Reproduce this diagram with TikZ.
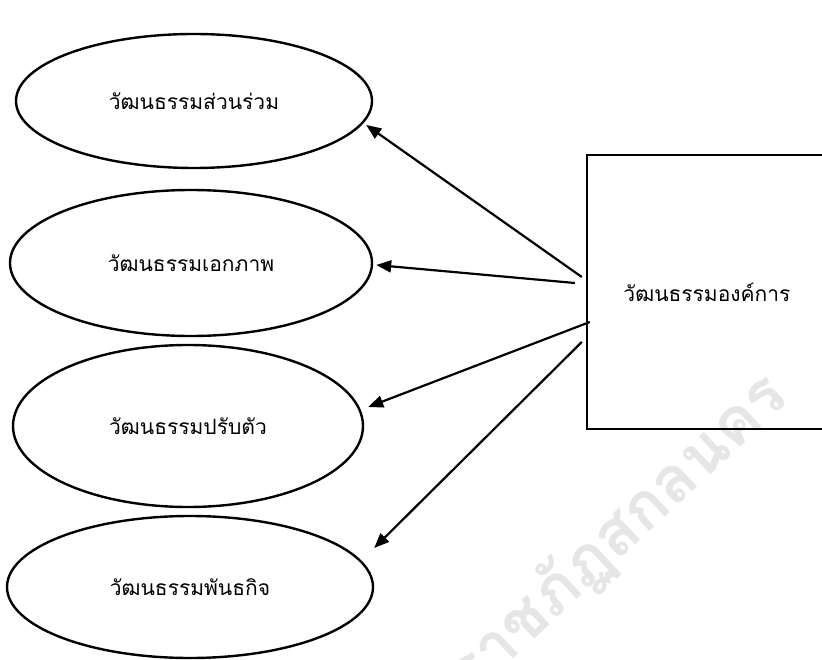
\documentclass[tikz,border=0pt]{standalone}
\usepackage{fontspec}
\newfontfamily\thaifont[Script=Thai]{Loma}
\usetikzlibrary{shapes.geometric,arrows.meta}
\definecolor{wmgray}{HTML}{E6E6E6}
\begin{document}
\begin{tikzpicture}[x=1pt,y=-1pt,
  every node/.style={font=\thaifont\fontsize{21}{24}\selectfont},
  oval/.style={ellipse,draw,line width=2.4pt,inner sep=0pt},
  bigbox/.style={rectangle,draw,line width=2.4pt,inner sep=0pt},
  link/.style={line width=2.2pt,-{Triangle[length=15pt,width=12pt]}}]
\useasboundingbox (0,0) rectangle (822,660);
\begin{scope}
\clip (0,0) rectangle (822,660);
% faint watermark
\node[text=wmgray,rotate=43,anchor=south east,inner sep=0pt,
      font=\thaifont\bfseries\fontsize{64}{72}\selectfont] (wm) at (800,410) {ราชภัฏสกลนคร};
% main box, running off the right edge
\node[bigbox,minimum width=240pt,minimum height=274pt] (org) at (707,292) {วัฒนธรรมองค์การ};
\end{scope}
% four culture types
\node[oval,minimum width=356pt,minimum height=134pt] (e1) at (194,101) {วัฒนธรรมส่วนร่วม};
\node[oval,minimum width=362pt,minimum height=146pt] (e2) at (191,263) {วัฒนธรรมเอกภาพ};
\node[oval,minimum width=350pt,minimum height=162pt] (e3) at (188,426) {วัฒนธรรมปรับตัว};
\node[oval,minimum width=366pt,minimum height=142pt] (e4) at (190,587) {วัฒนธรรมพันธกิจ};
% arrows from the box to each type
\draw[link] ([shift={(-4,-15)}]org.west) -- ([shift={(-7,24)}]e1.east);
\draw[link] ([shift={(-11,-9)}]org.west) -- ([shift={(3,2)}]e2.east);
\draw[link] ([shift={(4,30)}]org.west) -- ([shift={(4,-19)}]e3.east);
\draw[link] ([shift={(-4,50)}]org.west) -- ([shift={(0,-39)}]e4.east);
\end{tikzpicture}
\end{document}
